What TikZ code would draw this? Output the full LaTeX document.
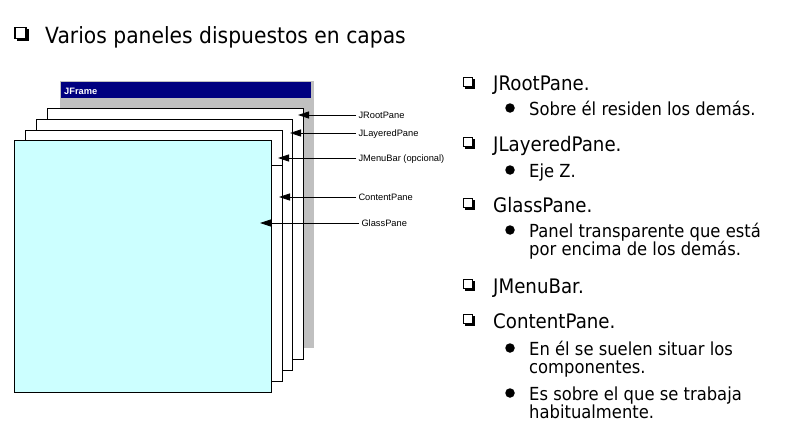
\documentclass[tikz,border=0pt]{standalone}
\usepackage{fontspec}
\setmainfont{DejaVu Sans}[FakeStretch=0.91]
\newfontfamily\arial{Liberation Sans}
\usetikzlibrary{arrows.meta}
\definecolor{cyanpane}{HTML}{CCFFFF}
\definecolor{framegray}{HTML}{C0C0C0}
\definecolor{titlenavy}{HTML}{000080}
\begin{document}
\begin{tikzpicture}[x=1pt,y=-1pt,
  panel/.style={draw=black, line width=0.8pt, fill=white, inner sep=0pt, outer sep=0pt, anchor=north west},
  lbl/.style={font=\arial\fontsize{9.3}{11}\selectfont, inner sep=0pt, outer sep=2.5pt, anchor=west, text height=6.7pt, text depth=0pt},
  ptr/.style={line width=0.8pt, -{Triangle[length=11pt,width=7pt]}},
  cbox/.style={draw=black, fill=white, line width=1pt, minimum size=9.5pt, inner sep=0pt,
    preaction={draw=black, fill=black, transform canvas={shift={(2pt,-2pt)}}}},
  bigcbox/.style={draw=black, fill=white, line width=1.1pt, minimum size=11pt, inner sep=0pt,
    preaction={draw=black, fill=black, transform canvas={shift={(2.3pt,-2.3pt)}}}},
  dot/.style={circle, fill=black, minimum size=9.5pt, inner sep=0pt},
  head/.style={anchor=base west, inner sep=0pt, font=\fontsize{20}{24}\selectfont},
  item/.style={anchor=base west, inner sep=0pt, font=\fontsize{18}{20}\selectfont}]
\useasboundingbox (0,0) rectangle (806,436);

% title
\node[bigcbox] (tcb) at (20.5,33) {};
\node[anchor=base west, inner sep=0pt, font=\fontsize{22.3}{26}\selectfont] (title) at (45,44) {Varios paneles dispuestos en capas};

% JFrame
\node[fill=framegray, minimum width=254pt, minimum height=267pt, anchor=north west, inner sep=0pt] (frame) at (60,81) {};
\node[fill=titlenavy, minimum width=250pt, minimum height=16pt, anchor=north west, inner sep=0pt] (bar) at (61,82) {};
\node[anchor=base west, text=white, font=\arial\bfseries\fontsize{9.3}{11}\selectfont, inner sep=0pt] (jf) at (64,94) {JFrame};

% panes
\node[panel, minimum width=256pt, minimum height=251pt] (root) at (47,108) {};
\node[panel, minimum width=256pt, minimum height=251pt] (layered) at (36,119) {};
\node[panel, minimum width=257pt, minimum height=251pt] (menu) at (25,130) {};
\draw[line width=0.8pt] (271,165) -- (282,165);
\node[panel, fill=cyanpane, minimum width=257pt, minimum height=252pt] (glass) at (14,140) {};

% labels and pointers
\node[lbl] (lRoot) at (356,115) {JRootPane};
\node[lbl] (lLay) at (356,133) {JLayeredPane};
\node[lbl] (lMenu) at (356,158) {JMenuBar (opcional)};
\node[lbl] (lCont) at (356,197) {ContentPane};
\node[lbl] (lGlass) at (359,223) {GlassPane};
\coordinate (tRoot) at (298,115);
\coordinate (tLay) at (290,133);
\coordinate (tMenu) at (278,158);
\coordinate (tCont) at (279,197);
\coordinate (tGlass) at (260,223);
\draw[ptr] (lRoot.west) -- (tRoot);
\draw[ptr] (lLay.west) -- (tLay);
\draw[ptr] (lMenu.west) -- (tMenu);
\draw[ptr] (lCont.west) -- (tCont);
\draw[ptr] (lGlass.west) -- (tGlass);

% right list
\node[cbox] (c1) at (468,82) {};
\node[head] (h1) at (493,91) {JRootPane.};
\node[dot] (d1) at (510,108) {};
\node[item] (i1) at (529,115) {Sobre él residen los demás.};

\node[cbox] (c2) at (468,142) {};
\node[head] (h2) at (493,151) {JLayeredPane.};
\node[dot] (d2) at (510,170) {};
\node[item] (i2) at (529,177) {Eje Z.};

\node[cbox] (c3) at (468,203) {};
\node[head] (h3) at (493,212) {GlassPane.};
\node[dot] (d3) at (510,230) {};
\node[item] (i3a) at (529,237) {Panel transparente que está};
\node[item] (i3b) at (529,255) {por encima de los demás.};

\node[cbox] (c4) at (468,284) {};
\node[head] (h4) at (493,293) {JMenuBar.};

\node[cbox] (c5) at (468,319) {};
\node[head] (h5) at (493,328) {ContentPane.};
\node[dot] (d5) at (510,348) {};
\node[item] (i5a) at (529,355) {En él se suelen situar los};
\node[item] (i5b) at (529,373) {componentes.};
\node[dot] (d6) at (510,393) {};
\node[item] (i6a) at (529,400) {Es sobre el que se trabaja};
\node[item] (i6b) at (529,418) {habitualmente.};
\end{tikzpicture}
\end{document}
